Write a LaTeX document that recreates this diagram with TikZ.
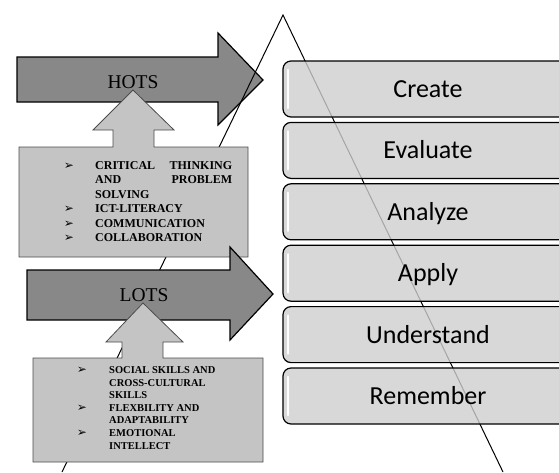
\documentclass[tikz,border=0pt]{standalone}
\usepackage{fontspec}
\setmainfont{Liberation Serif}
\newfontfamily\levelfont{Carlito}
\newfontfamily\symfont{DejaVu Sans}
\usepackage{tikz}
\definecolor{arrowgray}{RGB}{136,136,136}
\definecolor{panelgray}{RGB}{196,196,196}
\definecolor{levelgray}{RGB}{206,206,206}
\tikzset{
  bigarrow/.style={fill=arrowgray, draw=black, line width=1.2pt},
  panel/.style={fill=panelgray, draw=gray!60!black, line width=0.8pt},
  level/.style={fill=levelgray, fill opacity=0.8, draw=black, line width=1.2pt, rounded corners=8pt},
  hotsline/.style={anchor=base west, inner sep=0pt, font=\bfseries\fontsize{12}{14}\selectfont},
  lotsline/.style={anchor=base west, inner sep=0pt, font=\bfseries\fontsize{10.5}{12}\selectfont},
  tick/.style={anchor=base, inner sep=0pt, font=\symfont\fontsize{12}{12}\selectfont}
}

\begin{document}
\begin{tikzpicture}[x=1pt,y=-1pt]
  \useasboundingbox (0,0) rectangle (559,472);
  \clip (0,0) rectangle (559,472);
  % HOTS arrow sits under the pyramid line
  \draw[bigarrow] (17,57) -- (218,57) -- (218,33) -- (263,80) -- (218,125) -- (218,102) -- (17,102) -- cycle;

  % pyramid
  \coordinate (apex) at (283,15);
  \coordinate (baseL) at (62,472);
  \coordinate (baseR) at (503,472);
  \draw[line width=1pt] (baseL) -- (apex) -- (baseR);

  % levels
  \foreach \lbl [count=\i from 0] in {Create,Evaluate,Analyze,Apply,Understand,Remember} {
    \pgfmathsetmacro\ytop{61+61.4*\i}
    \draw[level] (283,\ytop) rectangle (575,\ytop+56);
    \draw[white, line width=2.5pt, line cap=round] (288,\ytop+9) -- (288,\ytop+47);
    \node[anchor=base, inner sep=0pt, font=\levelfont\fontsize{26}{30}\selectfont] (lvl\i) at (428,\ytop+36.5) {\lbl};
  }

  % HOTS
  \draw[panel] (19,257) -- (19,147) -- (113,147) -- (113,130) -- (93,130) -- (133,90) -- (174,130) -- (154,130) -- (154,147) -- (248,147) -- (248,257) -- cycle;
  \node[font=\fontsize{19.5}{22}\selectfont] (hots) at (133,82) {HOTS};
  \foreach \t/\b [count=\k from 0] in {{\makebox[137pt][s]{CRITICAL THINKING}}/1, {\makebox[137pt][s]{AND PROBLEM}}/0, SOLVING/0, ICT-LITERACY/1, COMMUNICATION/1, COLLABORATION/1} {
    \node[hotsline] (hots\k) at (95,169.5+14.4*\k) {\t};
    \ifnum\b=1 \node[tick] (hb\k) at (69,169.5+14.4*\k) {➢}; \fi
  }

  % LOTS
  \draw[bigarrow] (27,270) -- (230,270) -- (230,247) -- (273,294) -- (230,340) -- (230,320) -- (27,320) -- cycle;
  \draw[panel] (33,462) -- (33,358) -- (122,358) -- (122,342) -- (106,342) -- (143,303) -- (183,342) -- (163,342) -- (163,358) -- (263,358) -- (263,462) -- cycle;
  \node[font=\fontsize{19.5}{22}\selectfont] (lots) at (144,295) {LOTS};
  \foreach \t/\b [count=\k from 0] in {SOCIAL SKILLS AND/1, CROSS-CULTURAL/0, SKILLS/0, FLEXBILITY AND/1, ADAPTABILITY/0, EMOTIONAL/1, INTELLECT/0} {
    \node[lotsline] (lots\k) at (109,373.5+12.6*\k) {\t};
    \ifnum\b=1 \node[tick] (lb\k) at (82,373.5+12.6*\k) {➢}; \fi
  }
\end{tikzpicture}
\end{document}
